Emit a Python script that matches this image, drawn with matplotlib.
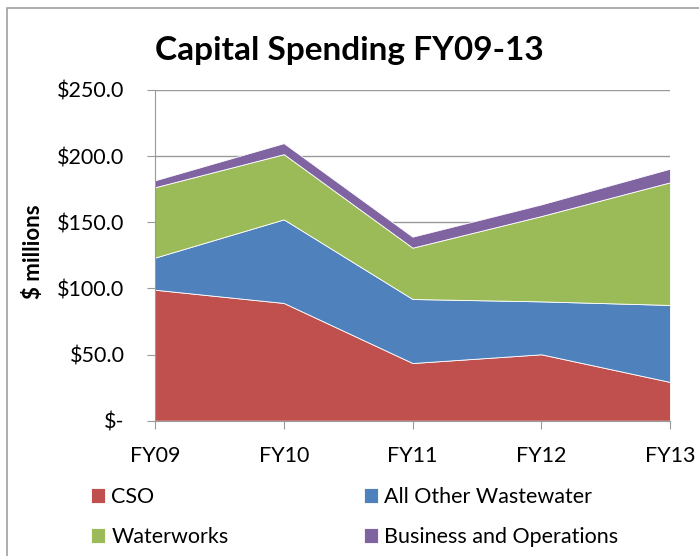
import matplotlib
matplotlib.use("Agg")
import matplotlib.pyplot as plt
from matplotlib.patches import Rectangle

# Data ($ millions)
years = ["FY09", "FY10", "FY11", "FY12", "FY13"]
cso = [99.0, 89.0, 43.6, 50.2, 29.3]
other_ww = [24.3, 63.2, 48.4, 40.0, 58.2]
waterworks = [53.2, 49.3, 38.8, 64.5, 92.7]
business = [5.2, 8.3, 8.3, 8.8, 10.3]

series_names = ["CSO", "All Other Wastewater", "Waterworks", "Business and Operations"]
colors = ["#C0504D", "#4F81BD", "#9BBB59", "#8064A2"]
yticks = [0, 50, 100, 150, 200, 250]
ytick_labels = ["$-", "$50.0", "$100.0", "$150.0", "$200.0", "$250.0"]

plt.rcParams["font.family"] = ["Lato", "DejaVu Sans"]

W, H = 699, 556
fig = plt.figure(figsize=(W / 100, H / 100), dpi=100)
ax = fig.add_axes([155 / W, 1 - 420.7 / H, (670 - 155) / W, (420.7 - 90) / H])

x = list(range(len(years)))
polys = ax.stackplot(x, cso, other_ww, waterworks, business, colors=colors,
                     labels=series_names, edgecolor="white", linewidth=0.6, zorder=3)

ax.set_xlim(0, len(years) - 1)
ax.set_ylim(0, 250)
ax.set_yticks(yticks)
ax.set_yticklabels(ytick_labels)
ax.set_xticks(x)
ax.set_xticklabels(years)
ax.yaxis.grid(True, color="#999999", linewidth=1.0, zorder=0)
ax.set_axisbelow(True)

for s in ["top", "right"]:
    ax.spines[s].set_visible(False)
for s in ["left", "bottom"]:
    ax.spines[s].set_color("#999999")
    ax.spines[s].set_zorder(4)
ax.tick_params(axis="both", colors="#999999", labelcolor="black", labelsize=15.5, length=6)
ax.tick_params(axis="x", pad=12)
ax.tick_params(axis="y", pad=16)

fig.text(33 / W, 1 - 252 / H, "$ millions", rotation=90, ha="center", va="center",
         fontsize=16, fontweight="bold")
fig.text(0.5, 1 - 60 / H, "Capital Spending FY09-13", ha="center", va="baseline",
         fontsize=24, fontweight="bold")

# legend: two columns placed separately, row-wise order like the original
leg_kw = dict(frameon=False, fontsize=15.5, handlelength=0.65, handleheight=0.7,
              handletextpad=0.3, labelspacing=0.92, borderpad=0, borderaxespad=0,
              loc="center left")
leg1 = fig.legend([polys[0], polys[2]], [series_names[0], series_names[2]],
                  bbox_to_anchor=(91 / W, 1 - 517 / H), **leg_kw)
leg2 = fig.legend([polys[1], polys[3]], [series_names[1], series_names[3]],
                  bbox_to_anchor=(364 / W, 1 - 517 / H), **leg_kw)

# outer chart frame
fig.patches.append(Rectangle((7 / W, -0.01), 1.0, 1 - 8 / H + 0.01, transform=fig.transFigure,
                             fill=False, edgecolor="#a0a0a0", linewidth=1.2))

fig.savefig("out.png", dpi=100)
